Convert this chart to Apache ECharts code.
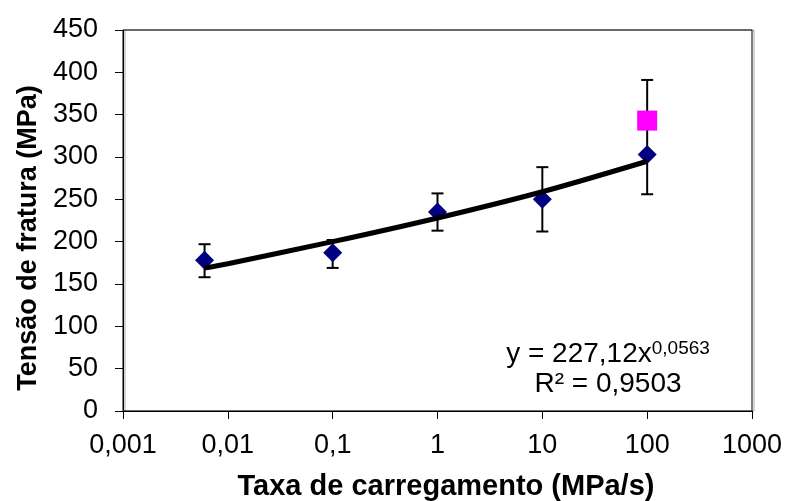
<!DOCTYPE html>
<html>
<head>
<meta charset="utf-8">
<script src="https://cdn.jsdelivr.net/npm/echarts@6/dist/echarts.min.js"></script>
<style>
html,body{margin:0;padding:0;background:#fff;}
#chart{width:787px;height:501px;}
</style>
</head>
<body>
<div id="chart"></div>
<script>
// Data
const xRates = [0.006, 0.1, 1, 10, 100];
const meanStress = [178, 187, 235, 250, 303];
const errLow = [158, 169, 213, 212, 256];
const errHigh = [197, 202, 257, 288, 391];
const extraX = [100];
const extraY = [343];
const trendX = [0.006, 0.01, 0.1, 1, 10, 100];
const trendY = [169, 174, 200, 228, 259, 295];
const xTickLabels = ['0,001', '0,01', '0,1', '1', '10', '100', '1000'];
const yTicks = [0, 50, 100, 150, 200, 250, 300, 350, 400, 450];
const xTitle = 'Taxa de carregamento (MPa/s)';
const yTitle = 'Tensão de fratura (MPa)';
const eqLine1 = 'y = 227,12x';
const eqExp = '0,0563';
const eqLine2 = 'R² = 0,9503';

const FONT = '"Liberation Sans", Arial, sans-serif';

const chart = echarts.init(document.getElementById('chart'), null, {renderer: 'canvas'});

const errData = xRates.map((x, i) => [x, errLow[i], errHigh[i]]);

const option = {
  backgroundColor: '#ffffff',
  animation: false,
  grid: {
    left: 123, right: 35, top: 30, bottom: 90,
    show: true, borderColor: '#000', borderWidth: 1,
    shadowColor: 'rgba(0,0,0,0.35)', shadowOffsetX: 2, shadowOffsetY: 0, shadowBlur: 0
  },
  xAxis: {
    type: 'log', logBase: 10, min: 0.001, max: 1000,
    axisLine: {show: true, onZero: false, lineStyle: {color: '#000', width: 1}},
    axisTick: {show: true, length: 8, lineStyle: {color: '#000'}},
    minorTick: {show: false},
    splitLine: {show: false},
    axisLabel: {
      fontFamily: FONT, fontSize: 27, color: '#000', margin: 21,
      formatter: function (v) {
        const idx = Math.round(Math.log10(v)) + 3;
        return xTickLabels[idx] !== undefined ? xTickLabels[idx] : '';
      }
    }
  },
  yAxis: {
    type: 'value', min: 0, max: 450, interval: 50,
    axisLine: {show: true, lineStyle: {color: '#000', width: 1}},
    axisTick: {show: true, length: 8, lineStyle: {color: '#000'}},
    splitLine: {show: false},
    axisLabel: {
      fontFamily: FONT, fontSize: 27, color: '#000', margin: 25,
      formatter: function (v) { return yTicks.indexOf(v) >= 0 ? String(v) : ''; }
    }
  },
  series: [
    {
      type: 'custom',
      name: 'errors',
      z: 2,
      data: errData,
      encode: {x: 0, y: [1, 2]},
      renderItem: function (params, api) {
        const x = api.value(0);
        const lo = api.coord([x, api.value(1)]);
        const hi = api.coord([x, api.value(2)]);
        const cw = 6;
        const style = {stroke: '#000', lineWidth: 2};
        return {
          type: 'group',
          children: [
            {type: 'line', shape: {x1: lo[0], y1: lo[1], x2: hi[0], y2: hi[1]}, style: style},
            {type: 'line', shape: {x1: lo[0] - cw, y1: lo[1], x2: lo[0] + cw, y2: lo[1]}, style: style},
            {type: 'line', shape: {x1: hi[0] - cw, y1: hi[1], x2: hi[0] + cw, y2: hi[1]}, style: style}
          ]
        };
      }
    },
    {
      type: 'scatter',
      name: 'mean',
      z: 3,
      symbol: 'diamond',
      symbolSize: [19, 19],
      itemStyle: {color: '#000080', opacity: 1},
      data: xRates.map((x, i) => [x, meanStress[i]])
    },
    {
      type: 'scatter',
      name: 'extra',
      z: 4,
      symbol: 'rect',
      symbolSize: [20, 20],
      itemStyle: {color: '#ff00ff', opacity: 1},
      data: extraX.map((x, i) => [x, extraY[i]])
    },
    {
      type: 'line',
      name: 'trend',
      z: 5,
      smooth: 0.3,
      showSymbol: false,
      symbol: 'none',
      lineStyle: {color: '#000', width: 5},
      data: trendX.map((x, i) => [x, trendY[i]])
    }
  ],
  graphic: [
    {
      type: 'text',
      x: 608, y: 339,
      style: {
        text: '{a|' + eqLine1 + '}{s|' + eqExp + '}\n{a|' + eqLine2 + '}',
        align: 'center',
        verticalAlign: 'top',
        rich: {
          a: {fontFamily: FONT, fontSize: 28, lineHeight: 30, color: '#000'},
          s: {fontFamily: FONT, fontSize: 19, lineHeight: 20, color: '#000', verticalAlign: 'top'}
        }
      }
    },
    {
      type: 'text',
      x: 446, y: 487,
      style: {
        text: xTitle,
        align: 'center', verticalAlign: 'middle',
        fontFamily: FONT, fontSize: 29, fontWeight: 'bold', fill: '#000'
      }
    },
    {
      type: 'text',
      x: 29, y: 238,
      rotation: Math.PI / 2,
      style: {
        text: yTitle,
        align: 'center', verticalAlign: 'middle',
        fontFamily: FONT, fontSize: 27, fontWeight: 'bold', fill: '#000'
      }
    }
  ]
};

chart.setOption(option);
</script>
</body>
</html>
